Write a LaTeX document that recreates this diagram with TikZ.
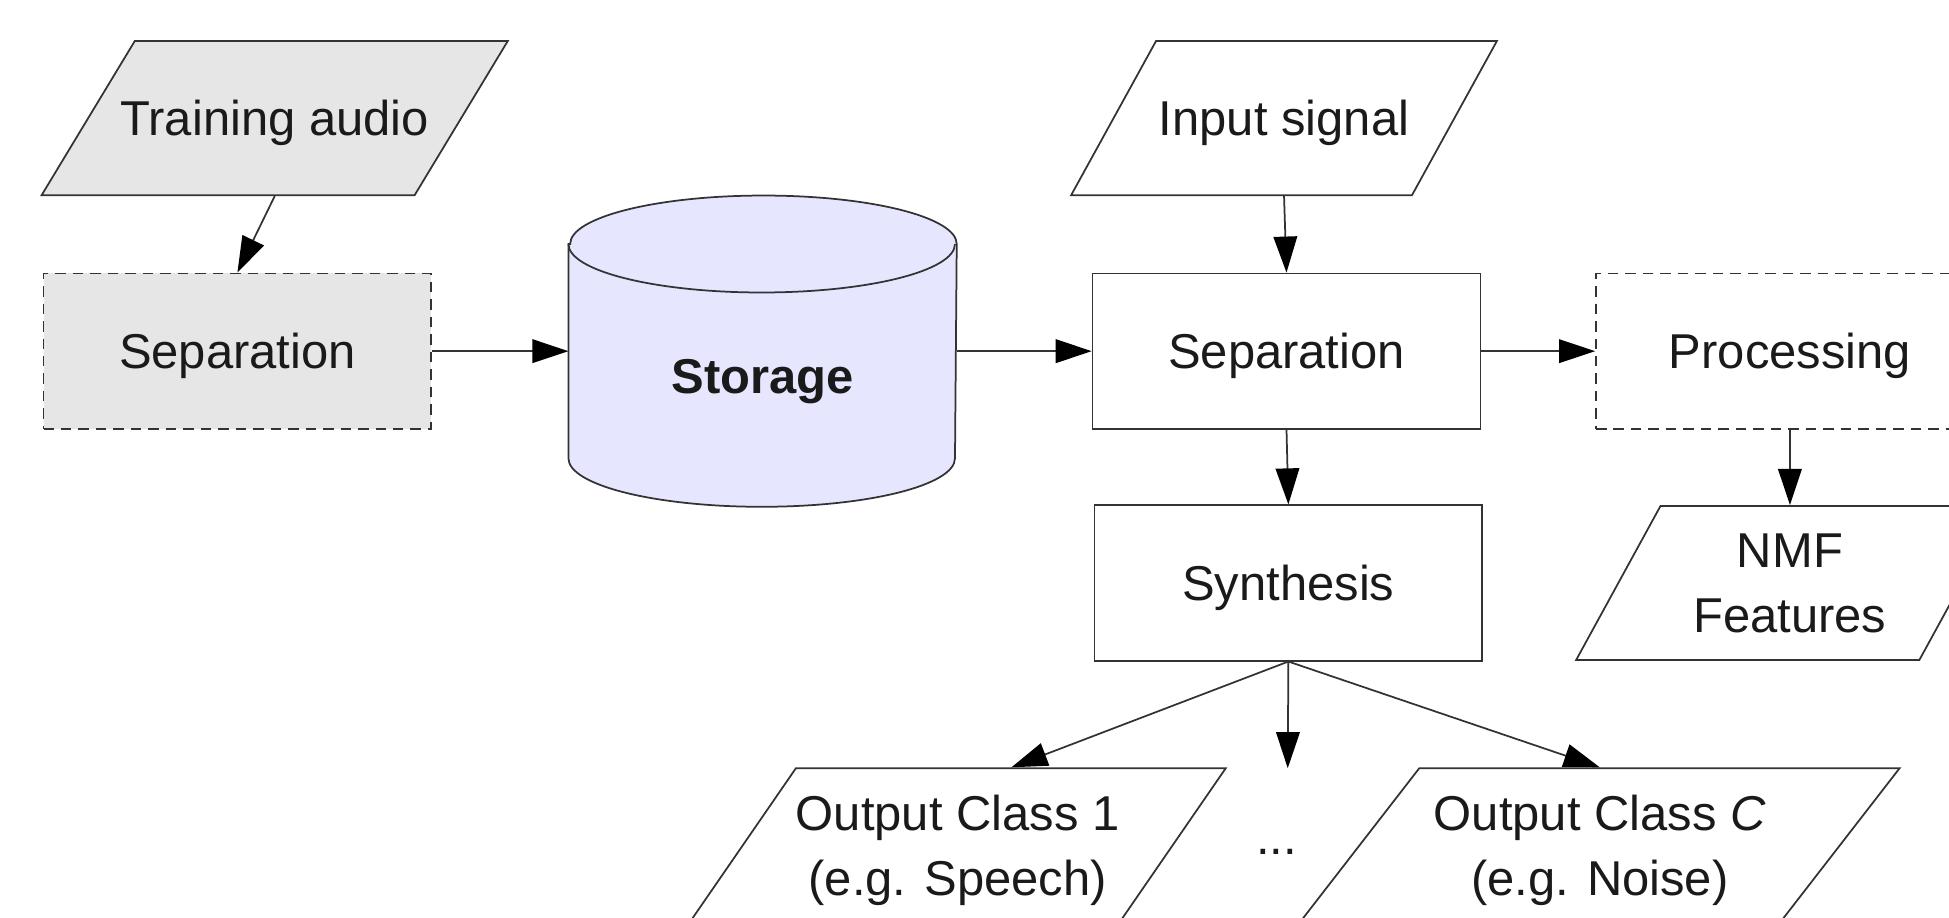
\documentclass[tikz,border=0pt]{standalone}
\usepackage{fontspec}
\setmainfont{Liberation Sans}
\usetikzlibrary{shapes.geometric,arrows.meta}
\definecolor{boxgray}{HTML}{E6E6E6}
\definecolor{storefill}{HTML}{E6E6FF}
\definecolor{inkline}{HTML}{333333}
\definecolor{inktext}{HTML}{1A1A1A}

\begin{document}
\begin{tikzpicture}[
    font=\fontsize{11.2}{14.8}\selectfont, text=inktext,
    oneline/.style={text height=8pt, text depth=0pt},
    box/.style={draw=inkline, line width=0.4pt, rectangle, minimum width=31.2mm, minimum height=12.5mm, inner sep=0pt, oneline},
    dbox/.style={box, dash pattern=on 2.4pt off 1.6pt},
    io/.style={draw=inkline, line width=0.4pt, trapezium, trapezium stretches body=true, minimum height=12.4mm, inner xsep=0pt, inner ysep=13.6pt, oneline},
    iotwo/.style={io, text height=, text depth=, inner ysep=6.1pt, align=center},
    flow/.style={draw=inkline, line width=0.4pt, -{Triangle[length=2.9mm,width=1.9mm,color=black]}}
  ]
  \useasboundingbox (0,0) rectangle (15.68,-7.38);
  \clip (0,0) rectangle (15.68,-7.38);
  \node[io, fill=boxgray, inner xsep=-1.25mm, trapezium left angle=58.8, trapezium right angle=121.2, minimum width=37.5mm] (train) at (2.21,-0.95) {Training audio};
  \node[dbox, fill=boxgray] (sepL) at (1.91,-2.825) {Separation};
  \node[inner sep=0pt, minimum width=31.1mm, minimum height=24.9mm] (store) at (6.135,-2.825) {};
  \draw[draw=inkline, line width=0.4pt, fill=storefill] ([yshift=-3.9mm]store.north west) -- ([yshift=3.9mm]store.south west)
    arc[start angle=180, end angle=360, x radius=15.55mm, y radius=3.9mm] -- ([yshift=-3.9mm]store.north east)
    arc[start angle=0, end angle=180, x radius=15.55mm, y radius=3.9mm] -- cycle;
  \draw[draw=inkline, line width=0.4pt] ([yshift=-3.9mm]store.north west) arc[start angle=180, end angle=360, x radius=15.55mm, y radius=3.9mm];
  \node[oneline, font=\fontsize{11.2}{14.8}\selectfont\bfseries] (storelbl) at ([yshift=-2mm]store.center) {Storage};
  \node[io, trapezium left angle=61.1, trapezium right angle=118.9, minimum width=34.25mm] (input) at (10.33,-0.95) {Input signal};
  \node[box] (sepM) at (10.35,-2.825) {Separation};
  \node[dbox] (proc) at (14.40,-2.825) {Processing};
  \node[iotwo, trapezium left angle=60.9, trapezium right angle=119.1, minimum width=34.4mm] (nmf) at (14.40,-4.69) {NMF\\\smash{Features}};
  \node[box] (synth) at (10.365,-4.69) {Synthesis};
  \node[iotwo, trapezium left angle=55.3, trapezium right angle=124.7, minimum width=43.1mm] (out1) at (7.705,-6.80) {Output Class 1\\\smash{(e.g. Speech)}};
  \node (dots) at (10.27,-6.85) {...};
  \coordinate (dotsin) at (10.36,-6.18);
  \node[iotwo, trapezium left angle=52.1, trapezium right angle=127.9, minimum width=48.25mm] (outC) at (12.87,-6.80) {Output Class \textit{C}\\\smash{(e.g. Noise)}};
  \draw[flow] (train.south) -- (sepL.north);
  \draw[flow] (sepL.east) -- (store.west);
  \draw[flow] (store.east) -- (sepM.west);
  \draw[flow] (input.south) -- (sepM.north);
  \draw[flow] (sepM.east) -- (proc.west);
  \draw[flow] (proc.south) -- (nmf.north);
  \draw[flow] (sepM.south) -- (synth.north);
  \draw[flow] (synth.south) -- (out1.top side);
  \draw[flow] (synth.south) -- (dotsin);
  \draw[flow] (synth.south) -- (outC.north);
\end{tikzpicture}
\end{document}
